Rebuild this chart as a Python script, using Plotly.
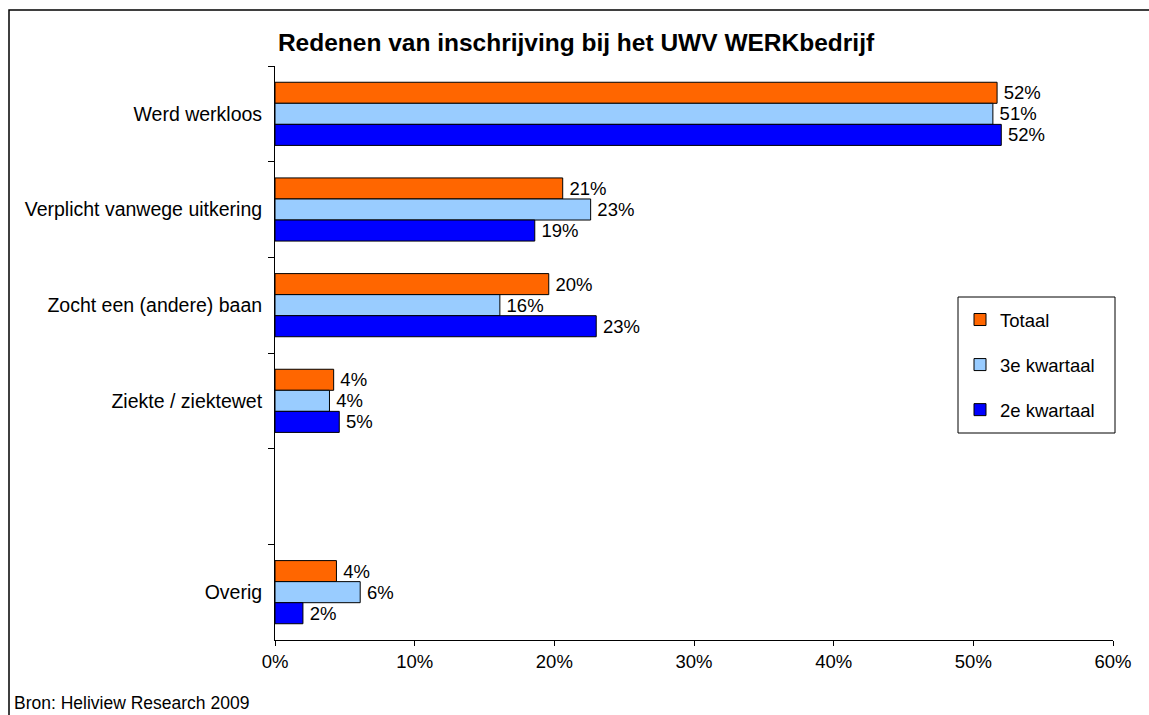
import plotly.graph_objects as go

categories = ["Werd werkloos", "Verplicht vanwege uitkering", "Zocht een (andere) baan",
              "Ziekte / ziektewet", " ", "Overig"]
series_names = ["Totaal", "3e kwartaal", "2e kwartaal"]
totaal = [0.517, 0.206, 0.196, 0.042, None, 0.044]
kwartaal3 = [0.514, 0.226, 0.161, 0.039, None, 0.061]
kwartaal2 = [0.520, 0.186, 0.230, 0.046, None, 0.020]
colors = ["#FF6600", "#99CCFF", "#0000FF"]
x_ticks = [0, 0.1, 0.2, 0.3, 0.4, 0.5, 0.6]

FONT = "Arial, Liberation Sans, sans-serif"
W, H = 1149, 715
# plot-area edges in screen pixels
SL, SR, ST, SB = 275, 1113, 66, 640

fig = go.Figure()
for i, (name, vals) in enumerate(zip(series_names, [totaal, kwartaal3, kwartaal2])):
    fig.add_trace(go.Bar(
        y=categories, x=vals, name=name, orientation="h",
        marker=dict(color=colors[i], line=dict(color="black", width=1)),
        texttemplate="\u2009%{x:.0%}", textposition="outside", constraintext="none",
        textfont=dict(family=FONT, size=18.5, color="black"),
        cliponaxis=False, legendgroup=name,
    ))

def px_x(p):
    return (p - SL) / (SR - SL)

def px_y(p):
    return (SB - p) / (SB - ST)

fig.update_layout(
    width=W, height=H,
    margin=dict(l=SL, r=W - SR, t=ST, b=H - SB),
    paper_bgcolor="white", plot_bgcolor="white",
    barmode="group", bargap=0.34, bargroupgap=0,
    font=dict(family=FONT, size=18, color="black"),
    title=dict(text="<b>Redenen van inschrijving bij het UWV WERKbedrijf</b>",
               font=dict(family=FONT, size=24.5, color="black"),
               x=576 / W, xref="container", xanchor="center",
               y=1 - 42 / H, yref="container", yanchor="middle"),
    xaxis=dict(range=[0, 0.6], tickvals=x_ticks, tickformat=".0%",
               showgrid=False, zeroline=False, showline=True, linecolor="black",
               linewidth=1, ticks="outside", ticklen=5, tickcolor="black",
               tickfont=dict(family=FONT, size=18.5, color="black")),
    yaxis=dict(categoryorder="array", categoryarray=categories,
               autorange="reversed", tickson="boundaries",
               showgrid=False, zeroline=False, showline=True, linecolor="black",
               linewidth=1, ticks="outside", ticklen=6, tickcolor="black",
               ticklabelstandoff=8,
               tickfont=dict(family=FONT, size=19.5, color="black")),
    legend=dict(x=px_x(960), y=px_y(301), xanchor="left", yanchor="top",
                borderwidth=0, bgcolor="rgba(0,0,0,0)",
                traceorder="grouped", tracegroupgap=18,
                font=dict(family=FONT, size=18.5, color="black")),
    showlegend=True,
)

# legend frame
fig.add_shape(type="rect", xref="paper", yref="paper",
              x0=px_x(958), x1=px_x(1115), y0=px_y(433), y1=px_y(297),
              line=dict(color="black", width=1), fillcolor="rgba(0,0,0,0)", layer="above")
# chart frame
fig.add_shape(type="rect", xref="paper", yref="paper",
              x0=px_x(9), x1=px_x(1170), y0=px_y(730), y1=px_y(10),
              line=dict(color="black", width=1.5), fillcolor="rgba(0,0,0,0)", layer="below")

fig.add_annotation(text="Bron: Heliview Research 2009", xref="paper", yref="paper",
                   x=px_x(12), y=px_y(703), xanchor="left", yanchor="middle",
                   showarrow=False, font=dict(family=FONT, size=17.5, color="black"))

fig.write_html(
    "out.html",
    config={"displayModeBar": False},
    post_script="document.body.style.margin='0';document.body.style.overflow='hidden';",
)
